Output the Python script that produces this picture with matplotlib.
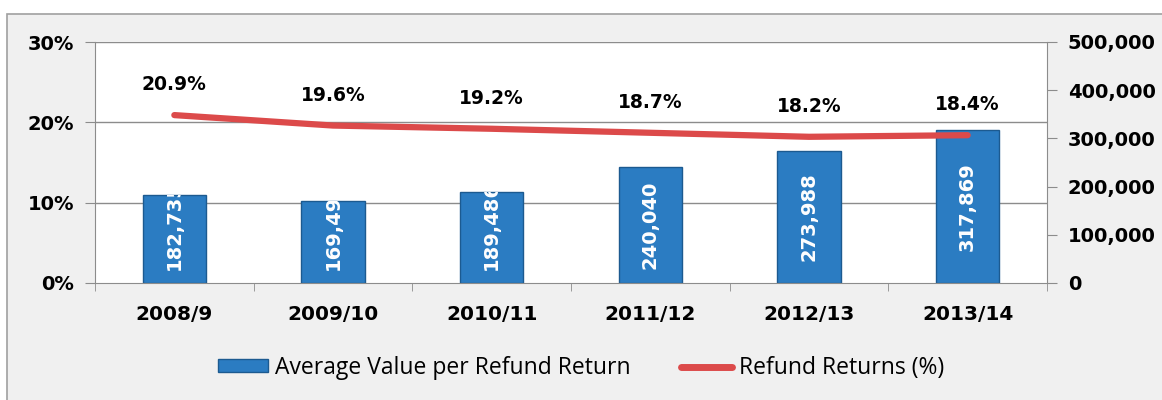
import matplotlib.pyplot as plt
from matplotlib.patches import Rectangle
from matplotlib.lines import Line2D
from matplotlib.ticker import FuncFormatter
from matplotlib.transforms import TransformedBbox

years = ["2008/9", "2009/10", "2010/11", "2011/12", "2012/13", "2013/14"]
avg_value = [182735, 169495, 189486, 240040, 273988, 317869]
refund_pct = [20.9, 19.6, 19.2, 18.7, 18.2, 18.4]

bar_color = "#2b7cc2"
bar_edge = "#1c5a90"
line_color = "#dc4a4a"
grid_color = "#8c8c8c"

fig = plt.figure(figsize=(11.62, 4.0), dpi=100)
fig.patch.set_facecolor("white")

# grey panel with border like the original screenshot
fig.add_artist(Rectangle((7 / 1162, -0.1), 1.2, 1 - 14 / 400 + 0.1,
                         transform=fig.transFigure, facecolor="#f0f0f0",
                         edgecolor="#a0a0a0", linewidth=1.2, zorder=-10))

ax = fig.add_axes([95 / 1162, 1 - 283 / 400, (1047 - 95) / 1162, (283 - 42) / 400])
ax2 = ax.twinx()

x = list(range(len(years)))

# bars sit on the right axis, line on the left one
ax2.set_zorder(1)
ax.set_zorder(2)
ax.patch.set_visible(False)
ax2.patch.set_visible(True)
ax2.patch.set_facecolor("white")

ax2.set_ylim(0, 500000)
bars = ax2.bar(x, avg_value, width=0.4, color=bar_color, edgecolor=bar_edge,
               linewidth=1.0, zorder=3)
for b, v in zip(bars, avg_value):
    # centred in the bar, but never lower than a small gap above the base
    yc = max(v / 2, 120000)
    t = ax2.text(b.get_x() + b.get_width() / 2, yc, f"{v:,}", rotation=90,
                 ha="center", va="center", color="white", fontsize=14,
                 fontweight="bold", zorder=4)
    t.set_clip_box(TransformedBbox(b.get_bbox(), ax2.transData))
    t.set_clip_on(True)

ax2.set_yticks(range(0, 500001, 100000))
ax2.yaxis.set_major_formatter(FuncFormatter(lambda v, p: f"{int(v):,}"))

ax.plot(x, refund_pct, color=line_color, linewidth=4.5, solid_capstyle="round", zorder=5)
for xi, p in zip(x, refund_pct):
    ax.annotate(f"{p}%", (xi, p), xytext=(0, 15), textcoords="offset points",
                ha="center", va="bottom", fontsize=13.5, fontweight="bold", color="black")

ax.set_ylim(0, 30)
ax.set_yticks([0, 10, 20, 30])
ax.yaxis.set_major_formatter(FuncFormatter(lambda v, p: f"{int(v)}%"))
ax.set_xlim(-0.5, len(years) - 0.5)
ax.set_xticks(x)
ax.set_xticklabels(years)
ax.set_xticks([i - 0.5 for i in range(len(years) + 1)], minor=True)

for yv in [10, 20, 30]:
    ax2.axhline(yv / 30 * 500000, color=grid_color, linewidth=1.0, zorder=1)

for a in (ax, ax2):
    for s in a.spines.values():
        s.set_color(grid_color)
    a.spines["top"].set_visible(False)
ax.spines["right"].set_visible(False)
ax2.spines["left"].set_visible(False)
ax2.spines["bottom"].set_visible(False)

ax.tick_params(axis="x", which="major", length=0, pad=16, labelsize=14.5)
ax.tick_params(axis="x", which="minor", length=6, color=grid_color)
ax.tick_params(axis="y", length=7, color=grid_color, labelsize=14, pad=8)
ax2.tick_params(axis="y", length=7, color=grid_color, labelsize=14, pad=8)
for lab in ax.get_xticklabels() + ax.get_yticklabels() + ax2.get_yticklabels():
    lab.set_fontweight("bold")

handles = [Rectangle((0, 0), 1, 1, facecolor=bar_color, edgecolor=bar_edge),
           Line2D([0], [0], color=line_color, linewidth=5, solid_capstyle="round")]
fig.legend(handles, ["Average Value per Refund Return", "Refund Returns (%)"],
           loc="center", bbox_to_anchor=(0.5, 1 - 368 / 400), ncol=2, frameon=False,
           prop={"family": "Open Sans", "size": 16.5}, handlelength=2.2, handleheight=0.5,
           handletextpad=0.3, columnspacing=2.2)

fig.savefig("out.png", dpi=100)
